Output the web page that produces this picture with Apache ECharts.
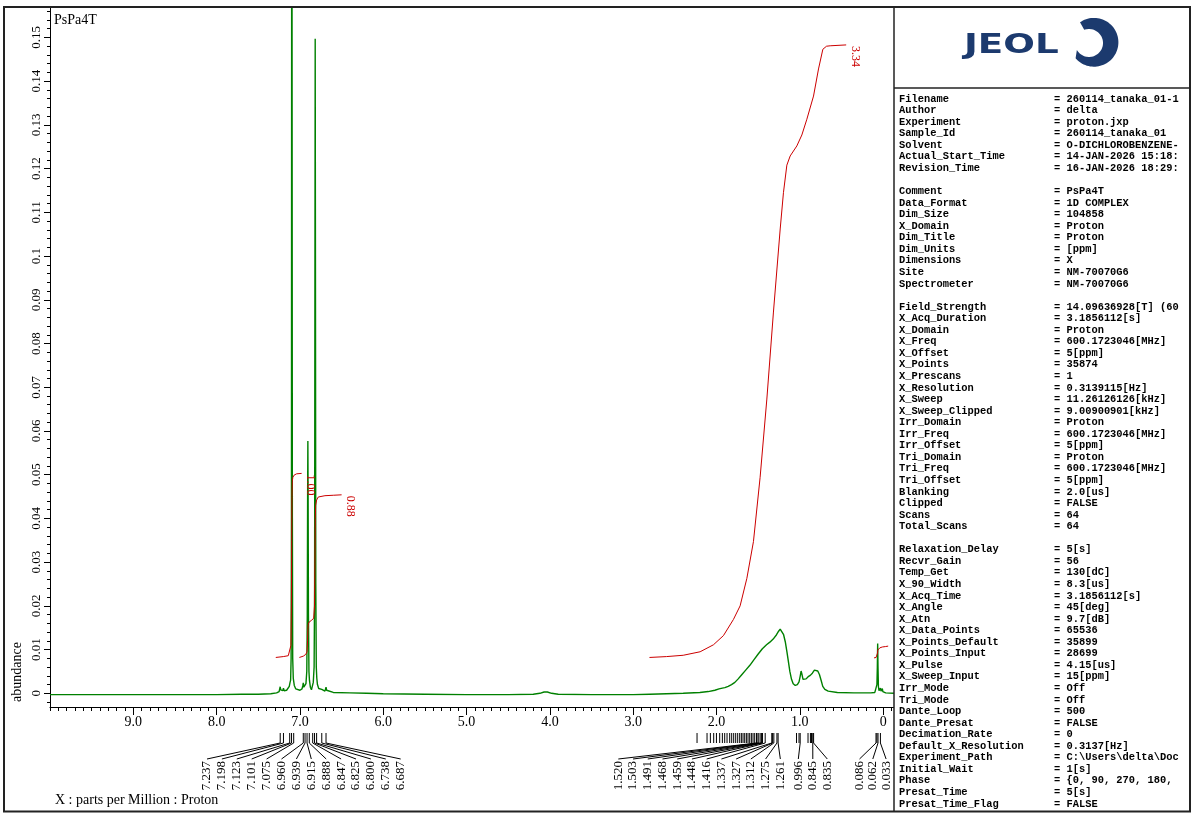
<!DOCTYPE html>
<html><head><meta charset="utf-8">
<script src="https://cdn.jsdelivr.net/npm/echarts@6/dist/echarts.min.js"></script>
<style>html,body{margin:0;padding:0;background:#fff}#c{width:1192px;height:814px}</style>
</head><body><div id="c"></div><script>
// ================= DATA =================
const sampleTitle = 'PsPa4T';
const xAxisTitle = 'X : parts per Million : Proton';
const yAxisTitle = 'abundance';
const xMajorTicks = [0, 1, 2, 3, 4, 5, 6, 7, 8, 9];
const yMajorTicks = [0, 0.01, 0.02, 0.03, 0.04, 0.05, 0.06, 0.07, 0.08, 0.09, 0.10, 0.11, 0.12, 0.13, 0.14, 0.15];

// 1H spectrum, [ppm, abundance]
const spectrum = [
 [10.00,-0.0003],[9.50,-0.0003],[9.00,-0.0003],[8.50,-0.0003],[8.00,-0.0003],[7.70,-0.0002],[7.50,-0.0002],[7.35,-0.0001],
 [7.28,0.0001],[7.25,0.0004],[7.243,0.0008],[7.237,0.0015],[7.231,0.0008],[7.22,0.0004],[7.205,0.0006],[7.198,0.0012],[7.191,0.0006],
 [7.18,0.0005],[7.16,0.0007],[7.14,0.0009],[7.128,0.0016],[7.12,0.0024],[7.112,0.0030],[7.106,0.008],[7.102,0.04],[7.098,0.25],
 [7.095,0.25],[7.091,0.04],[7.087,0.008],[7.080,0.0034],[7.075,0.0030],[7.068,0.0018],[7.05,0.0010],[7.03,0.0007],[7.00,0.0007],
 [6.975,0.0010],[6.965,0.0018],[6.960,0.0024],[6.954,0.0014],[6.945,0.0012],[6.939,0.0016],[6.928,0.0022],[6.918,0.005],[6.912,0.018],
 [6.908,0.045],[6.905,0.0577],[6.902,0.045],[6.898,0.018],[6.892,0.005],[6.886,0.0030],[6.875,0.0014],[6.862,0.0008],[6.850,0.0012],
 [6.840,0.0025],[6.830,0.006],[6.824,0.025],[6.820,0.10],[6.817,0.1497],[6.814,0.10],[6.810,0.025],[6.804,0.006],[6.798,0.0035],
 [6.790,0.0020],[6.775,0.0011],[6.755,0.0008],[6.738,0.0009],[6.725,0.0006],[6.700,0.0005],[6.693,0.0008],[6.687,0.0014],[6.680,0.0007],
 [6.66,0.0003],[6.60,0.0002],[6.40,0.0001],[6.20,0.0000],[6.00,-0.0001],[5.50,-0.0002],[5.00,-0.0003],[4.50,-0.0003],[4.20,-0.0002],
 [4.12,0.0000],[4.07,0.0003],[4.03,0.0003],[3.98,0.0000],[3.90,-0.0002],[3.50,-0.0003],[3.00,-0.0003],[2.80,-0.0002],[2.60,-0.0001],
 [2.40,0.0000],[2.20,0.0002],[2.10,0.0004],[2.02,0.0007],[1.97,0.0010],[1.93,0.0012],[1.90,0.0013],[1.86,0.0016],[1.82,0.0020],
 [1.78,0.0025],[1.74,0.0033],[1.70,0.0042],[1.65,0.0053],[1.60,0.0064],[1.55,0.0077],[1.50,0.0090],[1.45,0.0102],[1.40,0.0111],
 [1.36,0.0117],[1.32,0.0124],[1.28,0.0134],[1.255,0.0142],[1.236,0.0147],[1.215,0.0143],[1.195,0.0134],[1.175,0.0118],[1.155,0.0095],
 [1.137,0.0072],[1.12,0.0050],[1.10,0.0032],[1.08,0.0022],[1.055,0.0018],[1.03,0.0020],[1.01,0.0026],[0.995,0.0040],[0.985,0.0051],
 [0.975,0.0044],[0.962,0.0032],[0.948,0.0029],[0.925,0.0033],[0.90,0.0038],[0.875,0.0041],[0.85,0.0046],[0.825,0.0053],[0.805,0.0055],
 [0.785,0.0051],[0.765,0.0043],[0.745,0.0030],[0.725,0.0016],[0.70,0.0009],[0.66,0.0005],[0.55,0.0002],[0.35,0.0001],[0.15,0.0001],
 [0.10,0.0002],[0.085,0.0006],[0.075,0.0020],[0.070,0.0060],[0.066,0.0114],[0.062,0.0060],[0.057,0.0015],[0.050,0.0006],[0.040,0.0007],
 [0.033,0.0012],[0.026,0.0005],[0.016,0.0006],[0.010,0.0011],[0.004,0.0004],[-0.03,0.0001],[-0.13,0.0000]
];

// integral curves, [ppm, plotted height]
const integral1 = [[7.29,0.0082],[7.20,0.0084],[7.14,0.0086],[7.12,0.0090],[7.108,0.0110],[7.103,0.020],[7.099,0.035],[7.096,0.045],
 [7.092,0.0485],[7.085,0.0494],[7.07,0.0499],[7.04,0.0502],[6.98,0.0503]];
const integral2 = [[7.007,0.0082],[6.96,0.0085],[6.93,0.0089],[6.915,0.0095],[6.909,0.0120],[6.905,0.0145],[6.900,0.0158],[6.890,0.0163],
 [6.86,0.0167],[6.835,0.0172],[6.825,0.0200],[6.820,0.030],[6.816,0.040],[6.812,0.0430],[6.80,0.0442],[6.78,0.0449],[6.70,0.0452],
 [6.60,0.0453],[6.50,0.0454]];
const integral3 = [[2.805,0.0082],[2.60,0.0084],[2.40,0.0087],[2.197,0.0095],[2.037,0.0111],[1.917,0.0132],[1.797,0.0169],[1.717,0.0200],
 [1.636,0.0263],[1.557,0.0347],[1.477,0.0494],[1.396,0.0673],[1.317,0.0872],[1.236,0.1062],[1.197,0.1145],[1.156,0.1208],[1.116,0.1229],
 [1.036,0.1252],[0.976,0.1277],[0.916,0.1313],[0.836,0.1366],[0.776,0.1428],[0.724,0.1473],[0.68,0.1480],[0.636,0.1481],[0.444,0.1483]];
const integral4 = [[0.11,0.0081],[0.085,0.0082],[0.072,0.0086],[0.068,0.0092],[0.064,0.0099],[0.058,0.0102],[0.04,0.0104],[0.01,0.0106],
 [-0.03,0.0107],[-0.06,0.0108]];
const integralValues = ['1.00', '0.88', '3.34', '0.31'];

// picked peaks (ppm), grouped as labelled in the reference
const peaksGroupA = [7.237,7.198,7.123,7.101,7.075,6.960,6.939,6.915,6.888,6.847,6.825,6.800,6.738,6.687];
const peaksGroupB = [1.520,1.503,1.491,1.468,1.459,1.448,1.416,1.337,1.327,1.312,1.275,1.261];
const peaksGroupC = [0.996,0.845,0.835];
const peaksGroupD = [0.086,0.062,0.033];
const peaksUnlabelled = [2.234,2.114,2.074,2.034,2.001,1.962,1.930,1.902,1.874,1.842,1.818,1.794,1.770,1.746,1.722,1.702,1.682,
 1.662,1.642,1.622,1.602,1.582,1.562,1.542,1.040,1.010,0.902,0.873,0.860,0.075];

// parameter panel
const paramNames = ['Filename','Author','Experiment','Sample_Id','Solvent','Actual_Start_Time','Revision_Time','',
 'Comment','Data_Format','Dim_Size','X_Domain','Dim_Title','Dim_Units','Dimensions','Site','Spectrometer','',
 'Field_Strength','X_Acq_Duration','X_Domain','X_Freq','X_Offset','X_Points','X_Prescans','X_Resolution','X_Sweep','X_Sweep_Clipped',
 'Irr_Domain','Irr_Freq','Irr_Offset','Tri_Domain','Tri_Freq','Tri_Offset','Blanking','Clipped','Scans','Total_Scans','',
 'Relaxation_Delay','Recvr_Gain','Temp_Get','X_90_Width','X_Acq_Time','X_Angle','X_Atn','X_Data_Points','X_Points_Default',
 'X_Points_Input','X_Pulse','X_Sweep_Input','Irr_Mode','Tri_Mode','Dante_Loop','Dante_Presat','Decimation_Rate',
 'Default_X_Resolution','Experiment_Path','Initial_Wait','Phase','Presat_Time','Presat_Time_Flag'];
const paramValues = ['= 260114_tanaka_01-1','= delta','= proton.jxp','= 260114_tanaka_01','= O-DICHLOROBENZENE-',
 '= 14-JAN-2026 15:18:','= 16-JAN-2026 18:29:','',
 '= PsPa4T','= 1D COMPLEX','= 104858','= Proton','= Proton','= [ppm]','= X','= NM-70070G6','= NM-70070G6','',
 '= 14.09636928[T] (60','= 3.1856112[s]','= Proton','= 600.1723046[MHz]','= 5[ppm]','= 35874','= 1','= 0.3139115[Hz]',
 '= 11.26126126[kHz]','= 9.00900901[kHz]','= Proton','= 600.1723046[MHz]','= 5[ppm]','= Proton','= 600.1723046[MHz]','= 5[ppm]',
 '= 2.0[us]','= FALSE','= 64','= 64','',
 '= 5[s]','= 56','= 130[dC]','= 8.3[us]','= 3.1856112[s]','= 45[deg]','= 9.7[dB]','= 65536','= 35899','= 28699','= 4.15[us]',
 '= 15[ppm]','= Off','= Off','= 500','= FALSE','= 0','= 0.3137[Hz]','= C:\\Users\\delta\\Doc','= 1[s]','= {0, 90, 270, 180,',
 '= 5[s]','= FALSE'];

// ================= LAYOUT / STYLE =================
const X_MIN = -0.13, X_MAX = 10.0, Y_MIN = -0.00313, Y_MAX = 0.15697;
const SERIF = '"Liberation Serif", "Times New Roman", serif';
const MONO = '"Liberation Mono", "Courier New", monospace';
const GREEN = '#008000', RED = '#cc0000', NAVY = '#1c3a6e';
const LABEL_LAYOUT = [ {start:207, step:14.9}, {start:618.3, step:14.73}, {start:798.3, step:14.5}, {start:859.5, step:13.3} ];
const PANEL_X = 894;

const xMinor = []; for (let i = -1; i <= 100; i++) xMinor.push(+(i / 10).toFixed(1));
const yMinor = []; for (let i = -1; i <= 78; i++) yMinor.push(+(i * 0.002).toFixed(3));

const peakData = [];
[peaksGroupA, peaksGroupB, peaksGroupC, peaksGroupD].forEach((g, gi) => g.forEach((p, k) => peakData.push([p, 0, gi, k])));
peaksUnlabelled.forEach(p => peakData.push([p, 0, -1, -1]));

const integrals = [integral1, integral2, integral3, integral4];
const integralEnds = integrals.map(a => a[a.length - 1]);

// logo crescent outline (outer arc + offset inner arc)
function crescent() {
  const pts = [];
  const oc = [1094, 42.3], R = 24.4, ic = [1089, 43], r = 14;
  const a0 = -125, a1 = 142, b0 = 150, b1 = -112 + 360;
  for (let a = a0; a <= a1; a += 4) { const t = a * Math.PI / 180; pts.push([oc[0] + R * Math.cos(t), oc[1] + R * Math.sin(t)]); }
  for (let a = b0; a <= b1; a += 4) { const t = -a * Math.PI / 180 + 2 * b0 * Math.PI / 180; }
  // inner arc traversed counter-clockwise from 150deg back to -112deg
  for (let a = b0; a >= -112; a -= 4) { const t = a * Math.PI / 180; pts.push([ic[0] + r * Math.cos(t), ic[1] + r * Math.sin(t)]); }
  return pts;
}

const chart = echarts.init(document.getElementById('c'), null, {renderer: 'canvas', width: 1192, height: 814});

const baseAxisX = {type: 'value', min: X_MIN, max: X_MAX, inverse: true, position: 'bottom', splitLine: {show: false}};
const baseAxisY = {type: 'value', min: Y_MIN, max: Y_MAX, position: 'left', splitLine: {show: false}};

const series = [
  {type: 'line', data: spectrum, showSymbol: false, clip: true, lineStyle: {color: GREEN, width: 1.4}, z: 3, silent: true}
].concat(integrals.map(d => ({type: 'line', data: d, showSymbol: false, clip: true, lineStyle: {color: RED, width: 1}, z: 4, silent: true})));

series.push({
  type: 'custom', coordinateSystem: 'cartesian2d', data: peakData, clip: false, silent: true, z: 5,
  renderItem: function (params, api) {
    const ppm = api.value(0), g = api.value(2), k = api.value(3);
    const px = api.coord([ppm, 0])[0];
    const children = [{type: 'line', shape: {x1: px, y1: 733, x2: px, y2: 743}, style: {stroke: '#000', lineWidth: 1}}];
    if (g >= 0) {
      const L = LABEL_LAYOUT[g];
      const lx = L.start + k * L.step;
      children.push({type: 'line', shape: {x1: px, y1: 743, x2: lx, y2: 759}, style: {stroke: '#000', lineWidth: 1}});
      children.push({type: 'text', x: lx, y: 761, rotation: Math.PI / 2,
        style: {text: ppm.toFixed(3), font: '13px ' + SERIF, fill: '#000', align: 'right', verticalAlign: 'middle'}});
    }
    return {type: 'group', children: children};
  }
});

series.push({
  type: 'custom', coordinateSystem: 'cartesian2d', data: integralEnds, clip: false, silent: true, z: 5,
  renderItem: function (params, api) {
    const pt = api.coord([api.value(0), api.value(1)]);
    return {type: 'text', x: pt[0] + 3, y: pt[1] + 1, rotation: -Math.PI / 2,
      style: {text: integralValues[params.dataIndex], font: '12px ' + SERIF, fill: RED, align: 'left', verticalAlign: 'bottom'}};
  }
});

const graphics = [
  {type: 'rect', shape: {x: PANEL_X, y: 7, width: 1190 - PANEL_X, height: 805}, style: {fill: '#fff'}, z: 100, silent: true},
  {type: 'text', x: 54, y: 20, style: {text: sampleTitle, font: '14px ' + SERIF, fill: '#000', verticalAlign: 'middle'}, z: 101},
  {type: 'text', x: 17, y: 672, rotation: Math.PI / 2, style: {text: yAxisTitle, font: '14px ' + SERIF, fill: '#000', align: 'center', verticalAlign: 'middle'}, z: 101},
  {type: 'text', x: 55, y: 800, style: {text: xAxisTitle, font: '14px ' + SERIF, fill: '#000', verticalAlign: 'middle'}, z: 101},
  // JEOL logo
  {type: 'text', x: 964, y: 46, scaleX: 1.38, style: {text: 'JEOL', font: 'bold 27px "DejaVu Sans", sans-serif', fill: NAVY, verticalAlign: 'middle'}, z: 102},
  {type: 'polygon', shape: {points: crescent()}, style: {fill: NAVY}, z: 102},
  // parameter text
  {type: 'text', x: 899, y: 99 - 11.557 / 2, style: {text: paramNames.join('\n'), font: 'bold 10.4px ' + MONO, lineHeight: 11.557, fill: '#000', verticalAlign: 'top'}, z: 102},
  {type: 'text', x: 1054, y: 99 - 11.557 / 2, style: {text: paramValues.join('\n'), font: 'bold 10.4px ' + MONO, lineHeight: 11.557, fill: '#000', verticalAlign: 'top'}, z: 102},
  // frames
  {type: 'line', shape: {x1: PANEL_X, y1: 7, x2: PANEL_X, y2: 811.5}, style: {stroke: '#222', lineWidth: 1.5}, z: 103},
  {type: 'line', shape: {x1: PANEL_X, y1: 88, x2: 1190, y2: 88}, style: {stroke: '#222', lineWidth: 1.5}, z: 103},
  {type: 'rect', shape: {x: 4, y: 7, width: 1186, height: 804.5}, style: {fill: 'none', stroke: '#222', lineWidth: 2}, z: 103}
];

chart.setOption({
  backgroundColor: '#fff',
  animation: false,
  grid: {left: 50, top: 7, right: 1192 - PANEL_X, bottom: 107, containLabel: false},
  xAxis: [
    Object.assign({}, baseAxisX, {
      axisLine: {show: true, onZero: false, lineStyle: {color: '#000', width: 1}},
      axisTick: {show: true, length: 4, customValues: xMinor, lineStyle: {color: '#000'}},
      axisLabel: {show: false}
    }),
    Object.assign({}, baseAxisX, {
      axisLine: {show: false, onZero: false},
      axisTick: {show: true, length: 8, customValues: xMajorTicks, lineStyle: {color: '#000'}},
      axisLabel: {show: true, customValues: xMajorTicks, margin: 8, color: '#000', fontFamily: SERIF, fontSize: 14,
        formatter: v => (v === 0 ? '0' : v.toFixed(1))}
    })
  ],
  yAxis: [
    Object.assign({}, baseAxisY, {
      axisLine: {show: true, onZero: false, lineStyle: {color: '#000', width: 1}},
      axisTick: {show: true, length: 3, customValues: yMinor, lineStyle: {color: '#000'}},
      axisLabel: {show: false}
    }),
    Object.assign({}, baseAxisY, {
      axisLine: {show: false, onZero: false},
      axisTick: {show: true, length: 6, customValues: yMajorTicks, lineStyle: {color: '#000'}},
      axisLabel: {show: true, customValues: yMajorTicks, rotate: 90, margin: 7, color: '#000', fontFamily: SERIF, fontSize: 13,
        formatter: v => (Math.abs(v) < 1e-9 ? '0' : String(+v.toFixed(2)))}
    })
  ],
  series: series,
  graphic: graphics
});
</script></body></html>
